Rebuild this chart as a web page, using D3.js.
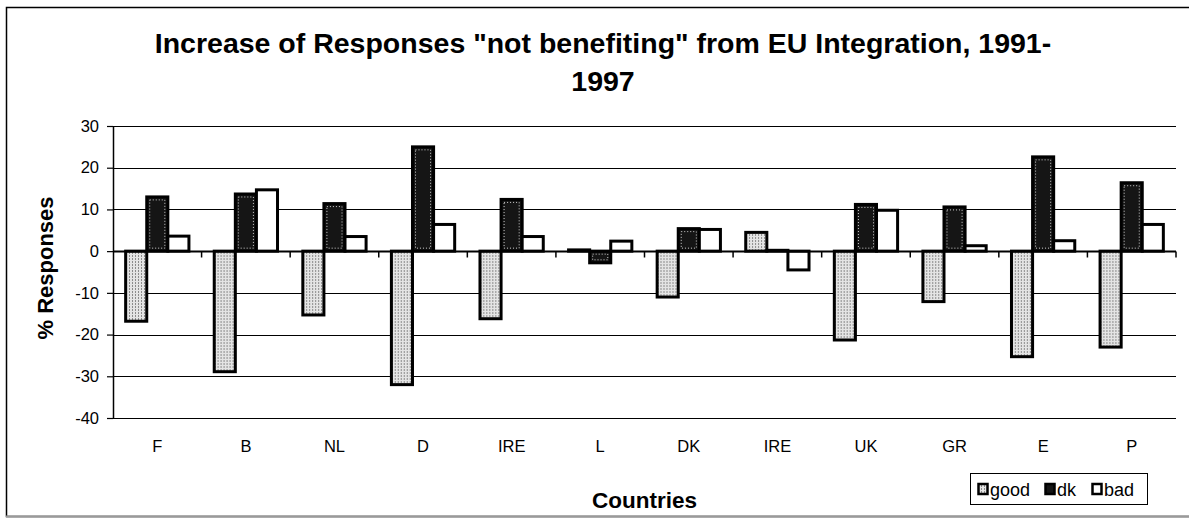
<!DOCTYPE html>
<html>
<head>
<meta charset="utf-8">
<script src="https://cdn.jsdelivr.net/npm/d3@7"></script>
<style>
  html, body { margin: 0; padding: 0; background: #fff; }
  svg { display: block; font-family: Arial, "Liberation Sans", sans-serif; }
</style>
</head>
<body>
<svg id="chart" width="1189" height="526"></svg>
<script>
// Country labels along the category axis (Ireland appears twice in the source table)
const countries = ["F", "B", "NL", "D", "IRE", "L", "DK", "IRE", "UK", "GR", "E", "P"];
const seriesNames = ["good", "dk", "bad"];

// Change in % of responses, 1991-1997
const good = [-16.8, -28.9, -15.3, -32.0, -16.2, 0.3, -11.0, 4.5, -21.3, -12.1, -25.3, -23.0];
const dk   = [13.0, 13.7, 11.4, 25.0, 12.4, -2.8, 5.4, 0.2, 11.2, 10.6, 22.6, 16.4];
const bad  = [3.6, 14.7, 3.5, 6.4, 3.5, 2.4, 5.2, -4.5, 9.8, 1.3, 2.5, 6.4];

const yTicks = [-40, -30, -20, -10, 0, 10, 20, 30];

const values = { good, dk, bad };

const svg = d3.select("#chart");

// outer chart frame
svg.append("rect")
  .attr("x", 6.5).attr("y", 7.5)
  .attr("width", 1200).attr("height", 509)
  .attr("fill", "none").attr("stroke", "#000").attr("stroke-width", 1.5);
svg.append("line")
  .attr("x1", 6).attr("x2", 1189).attr("y1", 516.5).attr("y2", 516.5)
  .attr("stroke", "#9a9a9a").attr("stroke-width", 2);

// fills
const defs = svg.append("defs");
const pGood = defs.append("pattern")
  .attr("id", "pat-good").attr("patternUnits", "userSpaceOnUse")
  .attr("width", 3).attr("height", 3);
pGood.append("rect").attr("width", 3).attr("height", 3).attr("fill", "#e4e4e4");
pGood.append("rect").attr("x", 1).attr("width", 1).attr("height", 2).attr("fill", "#8c8c8c");

const fills = { good: "url(#pat-good)", dk: "#151515", bad: "#ffffff" };

const plot = { left: 113, right: 1176, top: 126, bottom: 418 };

const y = d3.scaleLinear().domain([-40, 30]).range([plot.bottom, plot.top]);
const x0 = d3.scaleBand().domain(d3.range(countries.length))
  .range([plot.left, plot.right]).paddingInner(0).paddingOuter(0);
const x1 = d3.scaleBand().domain(seriesNames)
  .range([0, x0.bandwidth()]).paddingInner(0).paddingOuter(0.6);

// gridlines
svg.append("g")
  .selectAll("line").data(yTicks.filter(d => d !== 0))
  .join("line")
  .attr("x1", plot.left).attr("x2", plot.right)
  .attr("y1", d => Math.round(y(d)) + 0.5).attr("y2", d => Math.round(y(d)) + 0.5)
  .attr("stroke", "#000").attr("stroke-width", 1.2);

// y axis
const yAxis = svg.append("g")
  .attr("transform", `translate(${plot.left},0)`)
  .call(d3.axisLeft(y).tickValues(yTicks).tickFormat(d => String(d))
    .tickSize(6).tickPadding(8).tickSizeOuter(0));
yAxis.select(".domain").attr("stroke-width", 1.5);
yAxis.selectAll(".tick line").attr("stroke-width", 1.2);
yAxis.selectAll("text").attr("font-size", 16.5).attr("fill", "#000");

// bars
const groups = svg.append("g").selectAll("g")
  .data(countries.map((c, i) => i))
  .join("g")
  .attr("transform", i => `translate(${x0(i)},0)`);

groups.selectAll("rect.bar")
  .data(i => seriesNames.map(s => ({ s, v: values[s][i] })))
  .join("rect")
  .attr("class", "bar")
  .attr("x", d => x1(d.s))
  .attr("width", x1.bandwidth())
  .attr("y", d => y(Math.max(0, d.v)))
  .attr("height", d => Math.abs(y(d.v) - y(0)))
  .attr("fill", d => fills[d.s])
  .attr("stroke", "#000").attr("stroke-width", 3);

// dotted inner rim of the dark bars
groups.selectAll("rect.rim")
  .data(i => [{ s: "dk", v: dk[i] }].filter(d => Math.abs(y(d.v) - y(0)) > 8))
  .join("rect")
  .attr("class", "rim")
  .attr("x", d => x1(d.s) + 3)
  .attr("width", x1.bandwidth() - 6)
  .attr("y", d => y(Math.max(0, d.v)) + 3)
  .attr("height", d => Math.abs(y(d.v) - y(0)) - 6)
  .attr("fill", "none").attr("stroke", "#d0d0d0").attr("stroke-width", 1)
  .attr("stroke-dasharray", "1,2");

// category axis along zero with boundary tick marks
const zeroY = Math.round(y(0)) + 0.5;
svg.append("line")
  .attr("x1", plot.left).attr("x2", plot.right)
  .attr("y1", zeroY).attr("y2", zeroY)
  .attr("stroke", "#000").attr("stroke-width", 1.8);
svg.append("g").selectAll("line")
  .data(d3.range(1, countries.length + 1))
  .join("line")
  .attr("x1", i => plot.left + i * x0.step()).attr("x2", i => plot.left + i * x0.step())
  .attr("y1", zeroY).attr("y2", zeroY + 6)
  .attr("stroke", "#000").attr("stroke-width", 1.5);

// category labels below the plot
const xAxis = svg.append("g")
  .attr("transform", `translate(0,${plot.bottom + 19})`)
  .call(d3.axisBottom(x0).tickSize(0).tickFormat(i => countries[i]));
xAxis.select(".domain").remove();
xAxis.selectAll("text").attr("font-size", 16.5).attr("fill", "#000");

// titles
const title = svg.append("text")
  .attr("text-anchor", "middle").attr("font-weight", "bold").attr("font-size", 28.5);
title.append("tspan").attr("x", 603).attr("y", 53)
  .text("Increase of Responses \"not benefiting\" from EU Integration, 1991-");
title.append("tspan").attr("x", 603).attr("y", 91).text("1997");

svg.append("text")
  .attr("transform", `translate(53,${(plot.top + plot.bottom) / 2 - 4}) rotate(-90)`)
  .attr("text-anchor", "middle").attr("font-weight", "bold").attr("font-size", 22)
  .text("% Responses");

svg.append("text")
  .attr("x", (plot.left + plot.right) / 2).attr("y", 508)
  .attr("text-anchor", "middle").attr("font-weight", "bold").attr("font-size", 22.5)
  .text("Countries");

// legend
const legend = svg.append("g").attr("transform", "translate(970,473)");
legend.append("rect").attr("x", 0.5).attr("y", 0.5).attr("width", 177).attr("height", 31)
  .attr("fill", "#fff").attr("stroke", "#000").attr("stroke-width", 1);
const legendX = [7, 74, 121];
const items = legend.selectAll("g.item").data(seriesNames)
  .join("g").attr("class", "item")
  .attr("transform", (d, i) => `translate(${legendX[i]},0)`);
items.append("rect")
  .attr("x", 1.5).attr("y", 11).attr("width", 9).attr("height", 10)
  .attr("fill", d => fills[d]).attr("stroke", "#000").attr("stroke-width", 2.5);
items.append("text")
  .attr("x", 13).attr("y", 23)
  .attr("font-size", 18)
  .text(d => d);
</script>
</body>
</html>
